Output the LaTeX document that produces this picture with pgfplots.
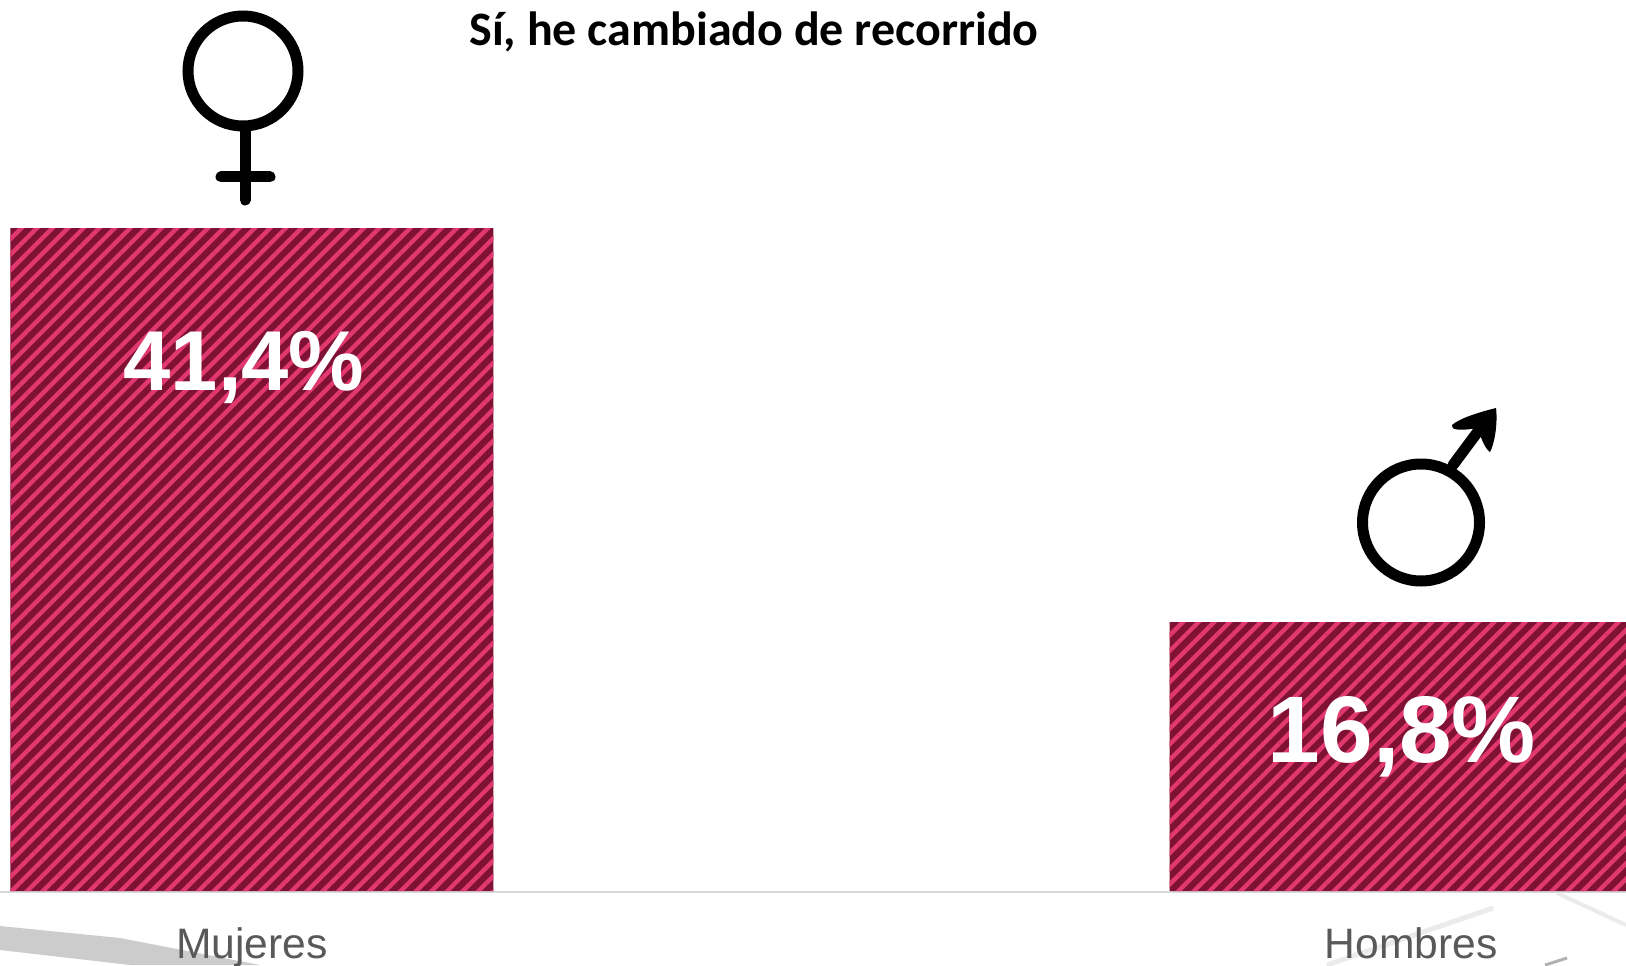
\documentclass[border=0pt]{standalone}
\usepackage{fontspec}
\setmainfont{Liberation Sans}
\newfontfamily\titlefont{Carlito}
\usepackage{pgfplots}
\pgfplotsset{compat=1.18}
\usetikzlibrary{patterns.meta}
\definecolor{stripedark}{HTML}{7F1234}
\definecolor{stripepink}{HTML}{E0386F}
\definecolor{labelgrey}{HTML}{595959}
\definecolor{axisgrey}{HTML}{D9D9D9}
\begin{document}
\begin{tikzpicture}
    \path[use as bounding box] (0,-37pt) rectangle (813pt,445.5pt);
    % px = reference pixels, y from the top
    \begin{scope}[shift={(0,445.5pt)},x=0.5pt,y=-0.5pt]
        % faint map lines behind the chart
        \fill[black!20] (0,926) -- (120,938) -- (260,965) -- (130,965) -- (0,950) -- cycle;
        \draw[black!8,line width=2.5pt] (1493,908) -- (1327,965);
        \draw[black!8,line width=2pt] (1557,893) -- (1626,925);
        \draw[black!30,line width=1.5pt] (1567,958) -- (1545,965);
        \draw[axisgrey,line width=0.7pt] (0,892) -- (1626,892);
    \end{scope}
    \begin{axis}[
        at={(0,0)},
        anchor=south west,
        scale only axis,
        width=813pt,
        height=445.5pt,
        xmin=-0.2174, xmax=1.1855,
        ymin=0, ymax=55.65,
        xtick=data,
        xticklabels={Mujeres,Hombres},
        ytick=\empty,
        axis line style={draw=none},
        tick style={draw=none},
        xticklabel style={text=labelgrey,font=\fontsize{21.3}{25}\selectfont,anchor=base,yshift=-29.5pt},
        ybar,
        bar width=241.5pt,
        bar shift=0pt,
    ]
        \addplot[
            fill=stripedark,draw=none,
            postaction={pattern={Lines[angle=45,distance=5.5pt,line width=2.2pt]},pattern color=stripepink},
        ] coordinates {(0,41.4)(1,16.8)};
    \end{axis}
    \begin{scope}[shift={(0,445.5pt)},x=0.5pt,y=-0.5pt]
        \node[font=\fontsize{42.5}{50}\selectfont\bfseries,text=white] at (244,368) {41,4\%};
        \node[font=\fontsize{47.3}{56}\selectfont\bfseries,text=white] at (1402,737) {16,8\%};
        \node[font=\titlefont\fontsize{24}{28}\selectfont\bfseries] at (754,32) {Sí, he cambiado de recorrido};
        % female sign
        \begin{scope}[line width=5.5pt,line cap=round]
            \draw (243,71) circle[radius=55];
            \draw (245,130) -- (245,200);
            \draw (221,177) -- (270,177);
        \end{scope}
        % male sign
        \begin{scope}[line width=5.5pt,line cap=round]
            \draw (1421,522.5) circle[radius=58.5];
            \draw (1453,465) -- (1485,422);
        \end{scope}
        \fill[line join=round] (1496,408) .. controls (1480,412) and (1460,418) .. (1452,425)
            .. controls (1450,430) and (1460,431) .. (1478,428)
            .. controls (1480,435) and (1484,448) .. (1490,452)
            .. controls (1494,445) and (1498,425) .. (1496,408) -- cycle;
    \end{scope}
\end{tikzpicture}
\end{document}
